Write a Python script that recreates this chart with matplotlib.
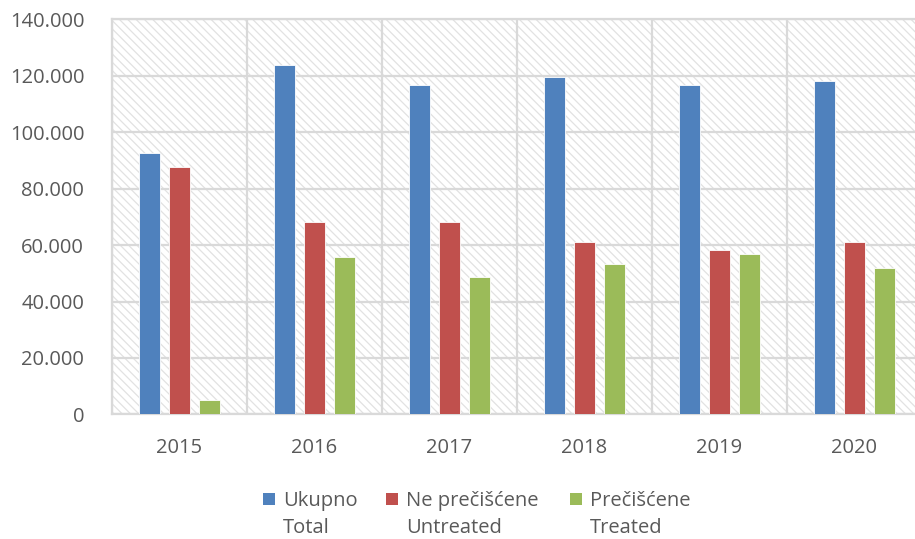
import matplotlib
matplotlib.use("Agg")
import matplotlib.pyplot as plt
import numpy as np
from matplotlib.patches import Rectangle
from matplotlib.ticker import FuncFormatter, MultipleLocator

# podaci ocitani sa slike
godine = ["2015", "2016", "2017", "2018", "2019", "2020"]
ukupno = [92800, 123900, 116800, 119400, 116800, 118200]
ne_preciscene = [87700, 68200, 68200, 61000, 58300, 61200]
preciscene = [5100, 55800, 48800, 53400, 57000, 51700]

serije = [
    ("Ukupno", "Total", ukupno, "#4F81BD"),
    ("Ne prečišćene", "Untreated", ne_preciscene, "#C0504D"),
    ("Prečišćene", "Treated", preciscene, "#9BBB59"),
]

plt.rcParams["font.family"] = ["Open Sans", "DejaVu Sans"]
plt.rcParams["hatch.linewidth"] = 0.9
siva = "#595959"
mreza = "#D9D9D9"

fig = plt.figure(figsize=(9.15, 5.39), dpi=100)
ax = fig.add_axes([112 / 915, 1 - 414.4 / 539, 810 / 915, (414.4 - 19.3) / 539])

# srafirana pozadina
pozadina = Rectangle((0, 0), 1, 1, transform=ax.transAxes, facecolor="white",
                     edgecolor="#E2E2E2", hatch="\\\\\\\\", linewidth=0, zorder=0)
ax.add_patch(pozadina)

x = np.arange(len(godine))
sirina = 0.15
pomak = 0.222
for i, (n1, n2, vrijednosti, boja) in enumerate(serije):
    ax.bar(x + (i - 1) * pomak, vrijednosti, width=sirina, color=boja,
           edgecolor="white", linewidth=0.6, zorder=3)

ax.set_xlim(-0.5, len(godine) - 0.5)
ax.set_ylim(0, 140000)
ax.yaxis.set_major_locator(MultipleLocator(20000))
ax.yaxis.set_major_formatter(FuncFormatter(lambda v, p: f"{int(v):,}".replace(",", ".")))
ax.set_xticks(x)
ax.set_xticklabels(godine)
ax.set_xticks(np.arange(-0.5, len(godine), 1), minor=True)

ax.grid(axis="y", which="major", color=mreza, linewidth=1.6, zorder=1)
ax.grid(axis="x", which="minor", color=mreza, linewidth=1.6, zorder=1)
ax.set_axisbelow(True)
for s in ax.spines.values():
    s.set_color(mreza)
    s.set_linewidth(1.6)
ax.tick_params(axis="both", which="both", length=0, colors=siva, labelsize=14.5)
ax.tick_params(axis="y", pad=20)
ax.tick_params(axis="x", pad=17)

# legenda: kvadratic poravnat s prvim redom teksta
legenda_x = [263, 386, 570]
for (n1, n2, vrijednosti, boja), lx in zip(serije, legenda_x):
    fig.patches.append(Rectangle((lx / 915, 1 - 505 / 539), 12 / 915, 12 / 539,
                                 transform=fig.transFigure, facecolor=boja,
                                 edgecolor="none"))
    fig.text((lx + 20) / 915, 1 - 506 / 539, n1, color=siva, fontsize=14.5,
             va="baseline", ha="left")
    fig.text((lx + 20) / 915, 1 - 533 / 539, n2, color=siva, fontsize=14.5,
             va="baseline", ha="left")

fig.savefig("out.png", dpi=100)
